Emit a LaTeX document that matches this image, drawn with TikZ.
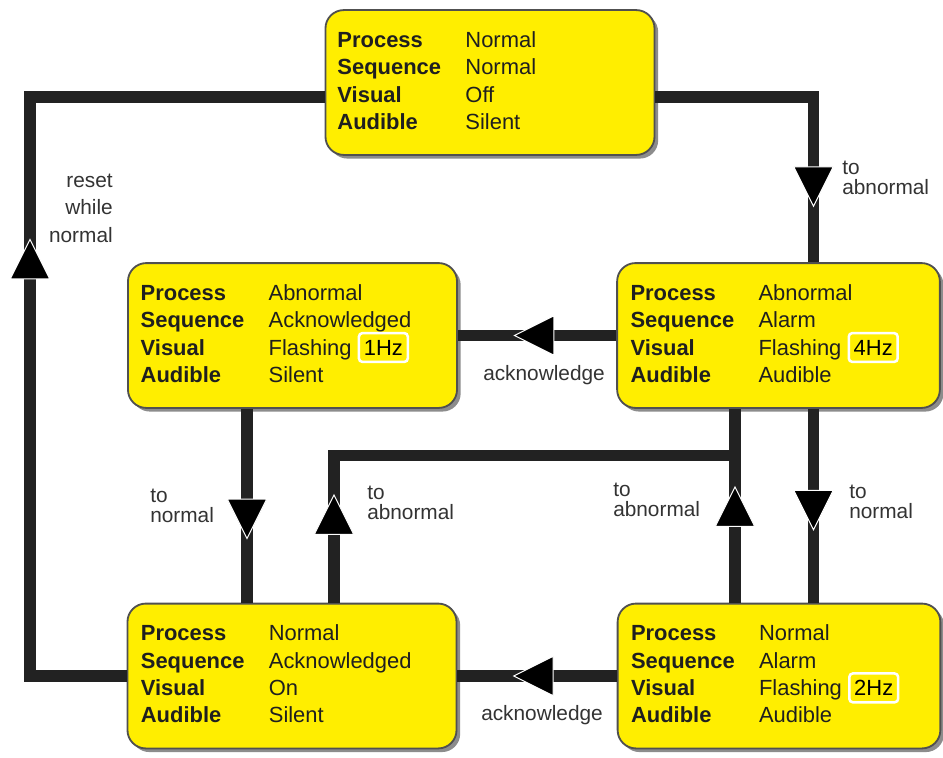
\documentclass[tikz,border=0pt]{standalone}
\usepackage{fontspec}
\setmainfont{Liberation Sans}
\usetikzlibrary{positioning,shadows,decorations.markings}
\definecolor{stateyellow}{RGB}{255,238,0}
\definecolor{wiregray}{RGB}{34,34,34}
\definecolor{edgegray}{RGB}{80,80,80}
\newcommand{\hz}[1]{\smash{\tikz[baseline=(hzb.base)]\node[draw=white,line width=1.8pt,rounded corners=2.5pt,fill=stateyellow,text=black,inner xsep=3.5pt,inner ysep=0pt,minimum height=20.5pt] (hzb) {#1};}}
\newcommand{\statetab}[4]{%
  \begin{tabular}{@{}p{91pt}@{}l@{}}
    \textbf{Process} & #1\\
    \textbf{Sequence} & #2\\
    \textbf{Visual} & #3\\
    \textbf{Audible} & #4
  \end{tabular}}

\begin{document}
\begin{tikzpicture}[x=0.025cm,y=-0.025cm,
  statebox/.style={draw=edgegray,line width=1.3pt,fill=stateyellow,rounded corners=13pt,
    minimum height=103pt,inner sep=0pt,
    drop shadow={shadow xshift=2.6pt,shadow yshift=-2.6pt,fill=black!45,opacity=1}},
  widebox/.style={statebox,minimum width=234pt},
  narrowbox/.style={statebox,minimum width=229.5pt},
  statetext/.style={inner sep=0pt,text=black!88,font=\fontsize{15.6}{19.5}\selectfont},
  wire/.style={draw=wiregray,line width=8.5pt},
  flow/.style={postaction={decorate,decoration={markings,mark=at position #1 with
    {\filldraw[fill=black,draw=white,line width=0.7pt] (14pt,0pt) -- (-14pt,14pt) -- (-14pt,-14pt) -- cycle;}}}},
  lbl/.style={inner sep=0pt,text=black!80,font=\fontsize{14.8}{14}\selectfont,align=left,anchor=west}]
  \useasboundingbox[fill=white] (0,0) rectangle (943,758);

  % states
  \node[widebox] (T) at (490,82.5) {};
  \node[narrowbox] (RM) at (778.5,335.5) {};
  \node[widebox] (LM) at (292.5,335.5) {};
  \node[widebox] (LB) at (292,676) {};
  \node[narrowbox] (RB) at (779,676) {};

  \node[statetext,below right=13.2pt and 9pt of T.north west] (Ttab)
    {\statetab{Normal}{Normal}{Off}{Silent}};
  \node[statetext,below right=13.2pt and 10pt of RM.north west] (RMtab)
    {\statetab{Abnormal}{Alarm}{Flashing \hz{4Hz}}{Audible}};
  \node[statetext,below right=13.2pt and 9.5pt of LM.north west] (LMtab)
    {\statetab{Abnormal}{Acknowledged}{Flashing \hz{1Hz}}{Silent}};
  \node[statetext,below right=13.2pt and 10pt of LB.north west] (LBtab)
    {\statetab{Normal}{Acknowledged}{On}{Silent}};
  \node[statetext,below right=13.2pt and 10pt of RB.north west] (RBtab)
    {\statetab{Normal}{Alarm}{Flashing \hz{2Hz}}{Audible}};

  % wire rails
  \coordinate (rowT) at (0,97);
  \coordinate (rowJ) at (0,455.5);
  \coordinate (colL) at (30,0);
  \coordinate (colN) at (247,0);
  \coordinate (colA) at (334,0);
  \coordinate (colB) at (735,0);
  \coordinate (colC) at (813.5,0);

  % transitions
  \draw[wire,flow=6.19cm] (T.east |- rowT) -| (RM.north -| colC);
  \draw[wire,flow=2.05cm] (RM.west) -- (LM.east);
  \draw[wire,flow=2.75cm] (LM.south -| colN) -- (LB.north -| colN);
  \draw[wire,flow=2.2cm] (LB.north -| colA) |- (colB |- rowJ) -- (RM.south -| colB);
  \draw[wire,flow=2.4cm] (RB.north -| colB) -- (RM.south -| colB);
  \draw[wire,flow=2.53cm] (RM.south -| colC) -- (RB.north -| colC);
  \draw[wire,flow=2.08cm] (RB.west) -- (LB.east);
  \draw[wire,flow=12.83cm] (LB.west) -| (colL |- rowT) -- (T.west |- rowT);

  % labels
  \node[lbl] (toab1) at (842,178) {to\\abnormal};
  \node[lbl,align=right,anchor=east,font=\fontsize{14.8}{19.5}\selectfont] (reset) at (113,208) {reset\\while\\normal};
  \node[lbl,anchor=center] (ack1) at (544,375) {acknowledge};
  \node[lbl,anchor=center] (ack2) at (542,715) {acknowledge};
  \node[lbl] (tono1) at (150,506) {to\\normal};
  \node[lbl] (toab2) at (367,503) {to\\abnormal};
  \node[lbl] (toab3) at (613,500) {to\\abnormal};
  \node[lbl] (tono2) at (849,502) {to\\normal};
\end{tikzpicture}
\end{document}
